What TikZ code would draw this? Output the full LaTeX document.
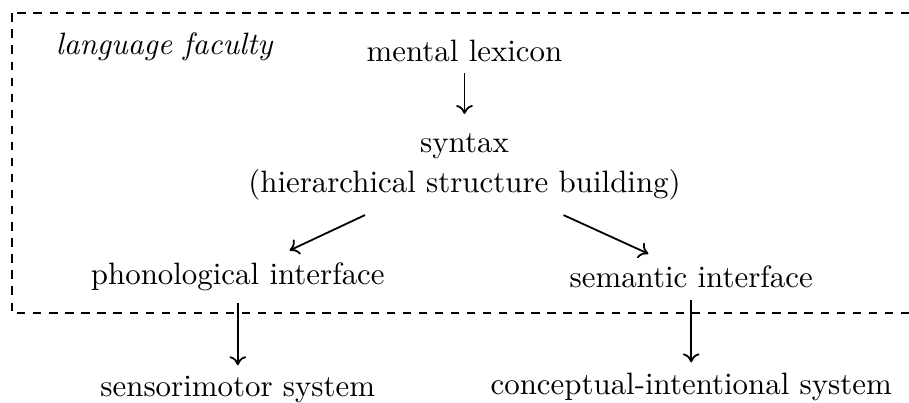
\documentclass[tikz,border=0pt]{standalone}
\usetikzlibrary{calc,arrows.meta}
\begin{document}
\begin{tikzpicture}[x=0.3236pt,y=-0.3236pt,
  line width=0.58pt,
  lbl/.style={inner sep=3.33pt},
  arr/.style={-{To[length=2.9pt,width=5.4pt]}},
  frame/.style={dash pattern=on 2.7pt off 2.5pt}]
% canvas
\clip (0,0) rectangle (909,403);
% the language faculty (open to the right)
\draw[frame] (11.7,13.3) rectangle (940,313.3);
\node[lbl,anchor=base west,font=\itshape] (lang) at (44.7,55) {language faculty};
% components
\node[lbl,anchor=base] (lex) at (464.5,61.7) {mental lexicon};
\node[lbl,anchor=north,align=center,font=\fontsize{10}{12.9}\selectfont] (syn) at (464.5,122.4)
  {syntax\\(hierarchical structure building)};
\node[lbl,anchor=base] (phon) at (237.8,285) {phonological interface};
\node[lbl,anchor=base] (sem) at (691.2,288) {semantic interface};
\node[lbl,anchor=base] (sens) at (237.8,396.7) {sensorimotor system};
\node[lbl,anchor=base] (ci) at (691.2,395) {conceptual-intentional system};
% connectors
\draw[arr] (lex.south) -- ($(syn.north)+(0,-8.4)$);
\draw[arr] ($(syn.south)+(-99.5,3.7)$) -- ($(phon.north)+(51.8,-1.6)$);
\draw[arr] ($(syn.south)+(99,3.7)$) -- ($(sem.north)+(-42.9,-1.3)$);
\draw[arr] (phon.south) -- (sens.north);
\draw[arr] (sem.south) -- (sem.south |- ci.north);
\end{tikzpicture}
\end{document}
